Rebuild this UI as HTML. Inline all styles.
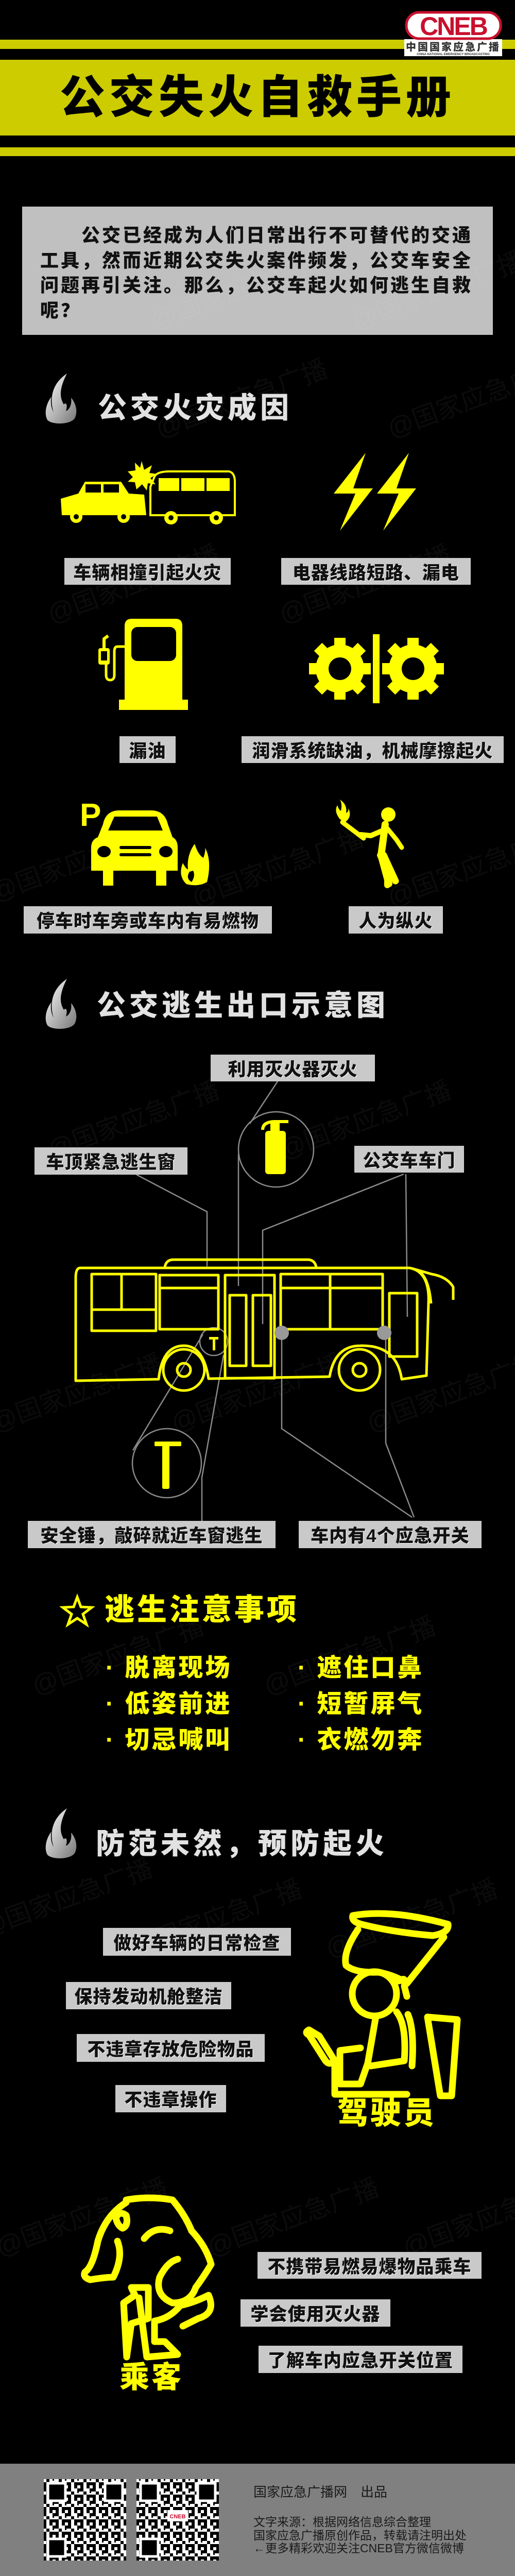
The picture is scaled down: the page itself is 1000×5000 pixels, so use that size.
<!DOCTYPE html>
<html><head><meta charset="utf-8">
<style>
*{margin:0;padding:0;box-sizing:border-box}
body{width:1000px;height:5000px;background:#000;position:relative;overflow:hidden;font-family:"Liberation Sans","Noto Sans CJK SC",sans-serif;font-weight:900}
.a{position:absolute}
.lb{position:absolute;background:#c9c9c9;color:#111;display:flex;align-items:center;justify-content:center;font-size:35px;font-weight:900;white-space:nowrap;letter-spacing:1px;text-shadow:1px 1px 0 #fff}
.hd{position:absolute;color:#e2e2e2;font-size:56px;letter-spacing:7px;white-space:nowrap;line-height:60px}
.it{position:absolute;color:#ffff00;font-size:48px;letter-spacing:4px;white-space:nowrap;line-height:50px}
svg{position:absolute;left:0;top:0}
</style></head><body>
<svg width="1000" height="5000" viewBox="0 0 1000 5000">
<defs>
<linearGradient id="fl" x1="0" y1="0" x2="1" y2="1"><stop offset="0" stop-color="#fff"/><stop offset=".5" stop-color="#bbb"/><stop offset="1" stop-color="#777"/></linearGradient>
<pattern id="qr" width="24" height="24" patternUnits="userSpaceOnUse">
<rect width="24" height="24" fill="#fff"/><rect x="0" y="0" width="6" height="6"/><rect x="12" y="0" width="6" height="12"/><rect x="6" y="6" width="6" height="6"/><rect x="18" y="12" width="6" height="6"/><rect x="0" y="18" width="12" height="6"/><rect x="12" y="18" width="6" height="6"/><rect x="6" y="12" width="3" height="3"/>
</pattern>
<g id="flame"><path d="M130 725 C100 745 96 775 104 800 C98 790 98 775 100 770 C88 785 86 805 92 815 C100 825 140 825 146 810 C152 795 145 780 138 772 C140 785 135 795 128 798 C132 785 128 780 124 785 C118 775 112 760 130 725 Z" fill="url(#fl)"/></g>
</defs>
<rect x="0" y="77" width="1000" height="18" fill="#cccc00"/>
<rect x="0" y="116" width="1000" height="147" fill="#cccc00"/>
<rect x="0" y="286" width="1000" height="17" fill="#cccc00"/>
<rect x="785" y="76" width="190" height="33" fill="#fff"/>
<rect x="789" y="24" width="183" height="51" rx="25" fill="#fff" stroke="#c8102e" stroke-width="5"/>
<text x="880" y="68" text-anchor="middle" font-size="50" font-weight="900" fill="#c8102e" font-family="Liberation Sans" letter-spacing="-3">CNEB</text>
<text x="880" y="98" text-anchor="middle" font-size="20" font-weight="900" fill="#333" letter-spacing="3">中国国家应急广播</text>
<text x="880" y="107" text-anchor="middle" font-size="6" fill="#333">CHINA NATIONAL EMERGENCY BROADCASTING</text>
<rect x="43" y="401" width="914" height="249" fill="#c0c0c0"/>
<g fill="#fff" fill-opacity="0.045" font-size="50" font-weight="400">
<text transform="translate(310,850) rotate(-20)">@国家应急广播</text>
<text transform="translate(760,850) rotate(-20)">@国家应急广播</text>
<text transform="translate(300,640) rotate(-20)">@国家应急广播</text>
<text transform="translate(690,640) rotate(-20)">@国家应急广播</text>
<text transform="translate(100,1210) rotate(-20)">@国家应急广播</text>
<text transform="translate(550,1210) rotate(-20)">@国家应急广播</text>
<text transform="translate(-10,1750) rotate(-20)">@国家应急广播</text>
<text transform="translate(380,1760) rotate(-20)">@国家应急广播</text>
<text transform="translate(760,1760) rotate(-20)">@国家应急广播</text>
<text transform="translate(100,2250) rotate(-20)">@国家应急广播</text>
<text transform="translate(550,2250) rotate(-20)">@国家应急广播</text>
<text transform="translate(-10,2780) rotate(-20)">@国家应急广播</text>
<text transform="translate(340,2780) rotate(-20)">@国家应急广播</text>
<text transform="translate(720,2780) rotate(-20)">@国家应急广播</text>
<text transform="translate(70,3290) rotate(-20)">@国家应急广播</text>
<text transform="translate(520,3290) rotate(-20)">@国家应急广播</text>
<text transform="translate(-30,3760) rotate(-20)">@国家应急广播</text>
<text transform="translate(260,3800) rotate(-20)">@国家应急广播</text>
<text transform="translate(640,3800) rotate(-20)">@国家应急广播</text>
<text transform="translate(0,4380) rotate(-20)">@国家应急广播</text>
<text transform="translate(410,4380) rotate(-20)">@国家应急广播</text>
<text transform="translate(790,4380) rotate(-20)">@国家应急广播</text>
</g>
<use href="#flame"/>
<use href="#flame" transform="translate(0,1175)"/>
<use href="#flame" transform="translate(0,2785)"/>
<g fill="#ffff00">
<path d="M152 958 L165 935 L235 935 L250 958 L280 960 L284 1000 L120 1000 L118 968 Z"/>
<circle cx="148" cy="1003" r="12"/><circle cx="240" cy="1003" r="12"/>
<polygon points="275,895 280,912 295,903 290,918 305,920 292,928 302,940 287,938 285,952 276,940 265,950 262,936 248,935 258,926 248,915 263,913 262,898 272,908"/>
<path d="M300 925 Q305 915 330 915 L445 915 Q456 918 456 935 L456 1000 L292 1000 L292 945 Z" fill="none" stroke="#ffff00" stroke-width="4"/>
<rect x="308" y="928" width="40" height="25"/><rect x="352" y="928" width="45" height="25"/><rect x="401" y="928" width="45" height="25"/>
<circle cx="332" cy="1005" r="13"/><circle cx="420" cy="1005" r="13"/>
</g>
<g fill="#000"><rect x="166" y="940" width="30" height="16"/><rect x="201" y="940" width="30" height="16"/><circle cx="148" cy="1003" r="5"/><circle cx="240" cy="1003" r="5"/><circle cx="332" cy="1005" r="5"/><circle cx="420" cy="1005" r="5"/></g>
<g fill="#ffff00">
<polygon points="710,879 648,958 690,958 660,1030 724,948 686,948"/>
<polygon points="794,879 732,958 774,958 744,1030 808,948 770,948"/>
</g>
<g fill="#ffff00">
<path d="M242 1215 Q242 1201 256 1201 L341 1201 Q354 1201 354 1215 L354 1360 L242 1360 Z"/>
<rect x="231" y="1358" width="134" height="20"/>
<path d="M242 1255 L228 1255 Q222 1255 222 1265 L222 1310 Q222 1320 214 1320 Q206 1320 206 1310 L206 1285" fill="none" stroke="#ffff00" stroke-width="5"/>
<rect x="191" y="1258" width="22" height="32" rx="4"/>
<path d="M202 1258 L202 1240 L210 1234" fill="none" stroke="#ffff00" stroke-width="6"/>
</g>
<rect x="255" y="1217" width="87" height="66" rx="12" fill="#000"/>
<rect x="196" y="1264" width="12" height="18" fill="#000"/>
<g fill="#ffff00">
<g transform="translate(660,1298)"><circle r="47"/><g id="teeth"><rect x="-11" y="-60" width="22" height="18"/><rect x="-11" y="42" width="22" height="18"/><rect x="-60" y="-11" width="18" height="22"/><rect x="42" y="-11" width="18" height="22"/><g transform="rotate(45)"><rect x="-11" y="-60" width="22" height="18"/><rect x="-11" y="42" width="22" height="18"/><rect x="-60" y="-11" width="18" height="22"/><rect x="42" y="-11" width="18" height="22"/></g></g><circle r="22" fill="#000"/></g>
<g transform="translate(802,1298)"><circle r="47"/><use href="#teeth"/><circle r="22" fill="#000"/></g>
<rect x="724" y="1231" width="13" height="134"/>
</g>
<g fill="#ffff00">
<text x="155" y="1603" font-size="62" font-weight="900" font-family="Liberation Sans">P</text>
<path d="M200 1600 Q205 1574 230 1573 L295 1573 Q320 1574 326 1600 L335 1625 Q345 1630 345 1645 L345 1690 L177 1690 L177 1645 Q177 1630 190 1625 Z"/>
<rect x="200" y="1688" width="20" height="31"/><rect x="303" y="1688" width="20" height="31"/>
<path d="M378 1638 Q385 1660 395 1665 Q400 1650 398 1645 Q412 1670 402 1712 Q385 1722 362 1716 Q345 1700 355 1675 Q360 1685 365 1688 Q362 1660 378 1638 Z"/>
</g>
<g fill="#000"><path d="M210 1612 L222 1585 L305 1585 L316 1612 Z"/><ellipse cx="202" cy="1653" rx="13" ry="11"/><ellipse cx="322" cy="1653" rx="13" ry="11"/><rect x="232" y="1642" width="62" height="6" rx="3"/><rect x="232" y="1656" width="62" height="6" rx="3"/><path d="M375 1690 Q380 1700 372 1712 Q360 1705 368 1692 Z"/></g>
<g fill="#ffff00" stroke="#ffff00" stroke-linecap="round">
<circle cx="754" cy="1581" r="14" stroke="none"/>
<path d="M748 1600 L740 1660 L755 1715" fill="none" stroke-width="14"/>
<path d="M748 1610 L720 1622 L700 1620" fill="none" stroke-width="10"/>
<path d="M752 1608 L770 1630 L780 1645" fill="none" stroke-width="9"/>
<path d="M745 1660 L768 1710" fill="none" stroke-width="13"/>
<path d="M738 1660 L752 1690 L752 1718" fill="none" stroke-width="12"/>
<path d="M665 1596 L706 1627" fill="none" stroke-width="9"/>
<path d="M660 1590 Q648 1575 655 1563 Q658 1572 662 1574 Q665 1560 660 1552 Q675 1562 672 1578 Q678 1575 676 1568 Q685 1585 670 1596 Z" stroke="none"/>
</g>
<g stroke="#8a8a8a" stroke-width="2.5" fill="none">
<polyline points="265,2280 402,2352 402,2458"/>
<polyline points="539,2099 485,2181"/>
<circle cx="536" cy="2231" r="73"/>
<polyline points="463,2240 463,2496"/>
<polyline points="788,2279 791,2556"/>
<polyline points="784,2279 510,2388 510,2570"/>
<circle cx="415" cy="2604" r="27"/>
<polyline points="394,2590 258,2815"/>
<circle cx="324" cy="2840" r="67"/>
<polyline points="434,2630 392,2868 392,2952"/>
<polyline points="547,2590 547,2773 800,2945"/>
<polyline points="749,2590 749,2801 804,2945"/>
</g>
<g fill="#ffff00"><rect x="515" y="2195" width="40" height="84" rx="6"/><rect x="525" y="2178" width="18" height="17"/><path d="M510 2193 Q510 2178 532 2177 L560 2177" fill="none" stroke="#ffff00" stroke-width="6"/></g>
<g fill="#ffff00"><rect x="300" y="2798" width="52" height="9" rx="2"/><rect x="315" y="2805" width="14" height="85" rx="3"/>
<rect x="406" y="2595" width="18" height="5"/><rect x="413" y="2599" width="5" height="22"/></g>
<g fill="none" stroke="#ffff00" stroke-width="5" stroke-linejoin="round">
<path d="M155 2461 L795 2461 Q835 2468 832 2530 L828 2670 L780 2677 Q770 2610 700 2612 Q650 2612 640 2672 L405 2676 Q395 2612 357 2612 Q315 2612 308 2677 L147 2680 L147 2480 Q147 2462 155 2461 Z"/>
<path d="M320 2460 Q322 2446 335 2445 L600 2445 Q612 2447 614 2460"/>
<path d="M800 2462 L838 2473 Q868 2478 880 2498 L880 2523"/>
<path d="M810 2465 Q832 2476 837 2530"/>
<rect x="178" y="2473" width="125" height="110"/><line x1="236" y1="2473" x2="236" y2="2542"/><line x1="178" y1="2542" x2="303" y2="2542"/>
<rect x="310" y="2475" width="114" height="105"/><line x1="310" y1="2500" x2="424" y2="2500"/>
<rect x="437" y="2475" width="96" height="200"/><rect x="446" y="2514" width="32" height="137"/><rect x="491" y="2514" width="35" height="137"/>
<rect x="545" y="2473" width="198" height="107"/><line x1="545" y1="2500" x2="743" y2="2500"/><line x1="641" y1="2473" x2="641" y2="2580"/>
<rect x="756" y="2510" width="54" height="123"/>
<circle cx="357" cy="2659" r="40"/><circle cx="357" cy="2659" r="13"/>
<circle cx="698" cy="2659" r="40"/><circle cx="698" cy="2659" r="13"/>
</g>
<circle cx="547" cy="2587" r="14" fill="#999"/><circle cx="746" cy="2587" r="14" fill="#999"/>
<polygon points="150,3100 157,3119 178,3120 161,3133 168,3153 150,3141 132,3153 139,3133 122,3120 143,3119" fill="none" stroke="#ffff00" stroke-width="5"/>
<g fill="none" stroke="#ffff00" stroke-width="13" stroke-linejoin="round" stroke-linecap="round">
<path d="M685 3718 Q760 3705 870 3735 Q872 3752 840 3757 Q760 3750 702 3735 Q682 3730 685 3718 Z"/>
<path d="M695 3745 Q665 3790 672 3815 Q690 3830 735 3828 Q770 3835 790 3850 Q830 3800 862 3760"/>
<circle cx="727" cy="3870" r="43"/>
<path d="M775 3845 Q790 3835 785 3855 L790 3875"/>
<path d="M730 3913 L714 4005 L700 4045 L660 4045 L660 3980 L700 3975"/>
<path d="M770 3905 Q790 3930 785 4000 L720 4010"/>
<path d="M792 3910 Q805 3940 800 4010"/>
<path d="M830 3915 L888 3920 L877 4068 L855 4068 Z"/>
<path d="M600 3950 Q590 3945 600 3940 L620 3952 L650 4000 Q640 4010 632 4000 Z"/>
<path d="M650 4000 L650 4065 L790 4065"/>
</g>
<g fill="none" stroke="#ffff00" stroke-width="13" stroke-linejoin="round" stroke-linecap="round">
<path d="M245 4270 Q290 4262 335 4270 Q360 4300 372 4330"/>
<path d="M245 4275 Q205 4300 190 4350 Q180 4400 165 4410 Q160 4420 175 4425 Q205 4420 220 4420 Q240 4380 228 4350"/>
<path d="M225 4305 Q232 4290 245 4300 Q250 4320 238 4325 Q228 4320 225 4305 Z"/>
<path d="M372 4330 Q400 4360 410 4395 Q395 4420 380 4440 Q370 4470 335 4470 Q300 4455 310 4420 Q325 4390 345 4385"/>
<path d="M280 4345 Q300 4320 330 4330"/>
<path d="M262 4455 L255 4440 L288 4440 L288 4500 L255 4510 L246 4575 L240 4470 Z"/>
<path d="M270 4460 L285 4575 L345 4570 L320 4545 L300 4545 L300 4505 Q330 4500 350 4475 Q375 4470 405 4455 Q420 4490 385 4500 Q365 4510 355 4515"/>
</g>
<rect x="0" y="4782" width="1000" height="218" fill="#808080"/>
<rect x="85" y="4812" width="160" height="158" fill="url(#qr)"/>
<rect x="265" y="4812" width="160" height="158" fill="url(#qr)"/>
<g fill="#000" stroke="#fff" stroke-width="5">
<rect x="93" y="4820" width="34" height="34"/><rect x="204" y="4820" width="34" height="34"/><rect x="93" y="4928" width="34" height="34"/>
<rect x="273" y="4820" width="34" height="34"/><rect x="384" y="4820" width="34" height="34"/><rect x="273" y="4928" width="34" height="34"/>
</g>
<rect x="325" y="4872" width="40" height="22" fill="#fff"/><text x="345" y="4888" text-anchor="middle" font-size="11" fill="#c8102e" font-weight="900">CNEB</text>
</svg>

<div class="a" style="left:0;top:143px;width:1000px;text-align:center;font-size:88px;line-height:92px;letter-spacing:8px;color:#000;font-weight:900">公交失火自救手册</div>

<div class="a" style="left:78px;top:433px;width:850px;font-size:36px;line-height:48.5px;letter-spacing:4px;color:#111;text-indent:80px">公交已经成为人们日常出行不可替代的交通工具，然而近期公交失火案件频发，公交车安全问题再引关注。那么，公交车起火如何逃生自救呢？</div>

<div class="hd" style="left:190px;top:762px">公交火灾成因</div>
<div class="lb" style="left:125px;top:1083px;width:323px;height:52px">车辆相撞引起火灾</div>
<div class="lb" style="left:546px;top:1083px;width:368px;height:52px">电器线路短路、漏电</div>
<div class="lb" style="left:232px;top:1429px;width:109px;height:52px">漏油</div>
<div class="lb" style="left:469px;top:1429px;width:509px;height:52px">润滑系统缺油，机械摩擦起火</div>
<div class="lb" style="left:46px;top:1759px;width:482px;height:53px">停车时车旁或车内有易燃物</div>
<div class="lb" style="left:677px;top:1759px;width:183px;height:53px">人为纵火</div>

<div class="hd" style="left:188px;top:1922px">公交逃生出口示意图</div>
<div class="lb" style="left:409px;top:2047px;width:319px;height:52px">利用灭火器灭火</div>
<div class="lb" style="left:67px;top:2227px;width:297px;height:53px">车顶紧急逃生窗</div>
<div class="lb" style="left:688px;top:2224px;width:213px;height:52px">公交车车门</div>
<div class="lb" style="left:54px;top:2952px;width:481px;height:53px">安全锤，敲碎就近车窗逃生</div>
<div class="lb" style="left:580px;top:2952px;width:355px;height:53px">车内有4个应急开关</div>

<div class="a" style="left:203px;top:3095px;font-size:58px;line-height:60px;letter-spacing:5px;color:#ffff00;white-space:nowrap">逃生注意事项</div>
<div class="it" style="left:205px;top:3213px">· 脱离现场</div>
<div class="it" style="left:205px;top:3283px">· 低姿前进</div>
<div class="it" style="left:205px;top:3353px">· 切忌喊叫</div>
<div class="it" style="left:578px;top:3213px">· 遮住口鼻</div>
<div class="it" style="left:578px;top:3283px">· 短暂屏气</div>
<div class="it" style="left:578px;top:3353px">· 衣燃勿奔</div>

<div class="hd" style="left:186px;top:3549px">防范未然，预防起火</div>
<div class="lb" style="left:200px;top:3742px;width:365px;height:54px">做好车辆的日常检查</div>
<div class="lb" style="left:128px;top:3847px;width:321px;height:53px">保持发动机舱整洁</div>
<div class="lb" style="left:149px;top:3948px;width:365px;height:54px">不违章存放危险物品</div>
<div class="lb" style="left:224px;top:4047px;width:215px;height:53px">不违章操作</div>
<div class="a" style="left:655px;top:4070px;font-size:60px;line-height:64px;letter-spacing:4px;color:#ffff00">驾驶员</div>

<div class="lb" style="left:500px;top:4371px;width:435px;height:52px">不携带易燃易爆物品乘车</div>
<div class="lb" style="left:467px;top:4463px;width:291px;height:53px">学会使用灭火器</div>
<div class="lb" style="left:502px;top:4553px;width:396px;height:53px">了解车内应急开关位置</div>
<div class="a" style="left:232px;top:4584px;font-size:58px;line-height:62px;letter-spacing:4px;color:#ffff00">乘客</div>

<div class="a" style="left:492px;top:4817px;font-size:26px;font-weight:400;color:#1a1a1a;white-space:nowrap">国家应急广播网　出品</div>
<div class="a" style="left:492px;top:4883px;font-size:23px;line-height:25.5px;font-weight:400;color:#1a1a1a;white-space:nowrap">文字来源：根据网络信息综合整理<br>国家应急广播原创作品，转载请注明出处<br>←更多精彩欢迎关注CNEB官方微信微博</div>
</body></html>
